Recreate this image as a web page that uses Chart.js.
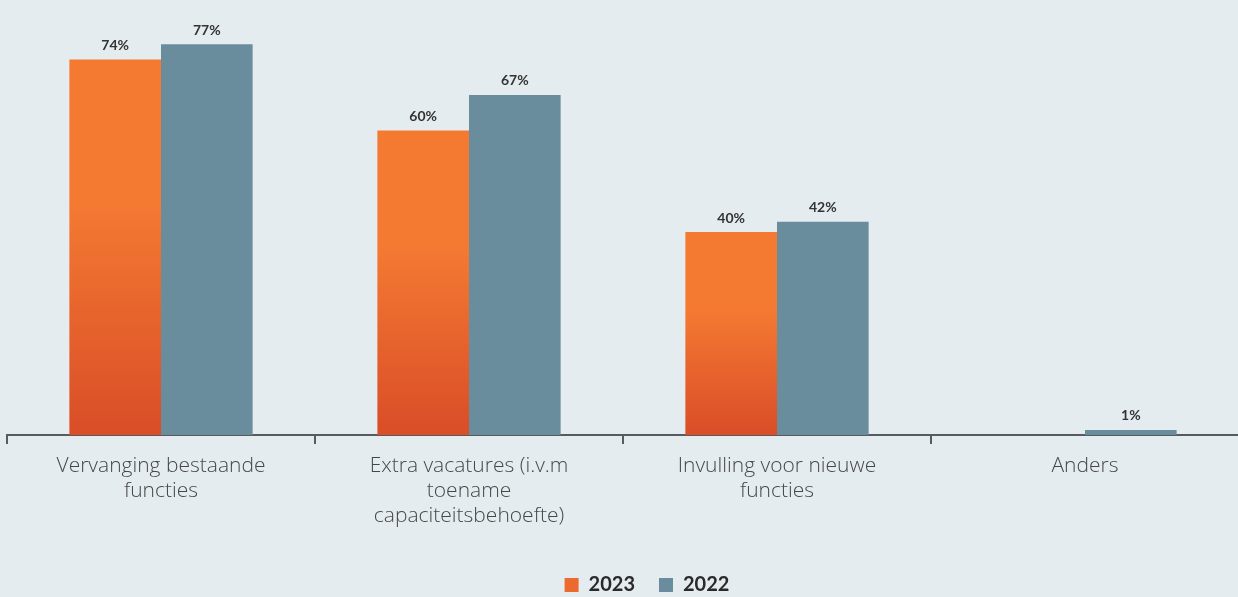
<!DOCTYPE html>
<html>
<head>
<meta charset="utf-8">
<script src="https://cdn.jsdelivr.net/npm/chart.js@4/dist/chart.umd.min.js"></script>
<style>
  html, body { margin: 0; padding: 0; background: #e5ecf0; overflow: hidden; }
  #wrap { width: 1240px; height: 597px; position: relative; }
</style>
</head>
<body>
<div id="wrap"><canvas id="chart"></canvas></div>
<script>
const categories = [
    ['Vervanging bestaande', 'functies'],
    ['Extra vacatures (i.v.m', 'toename', 'capaciteitsbehoefte)'],
    ['Invulling voor nieuwe', 'functies'],
    'Anders'
];
const values2023 = [74, 60, 40, null];
const values2022 = [77, 67, 42, 1];
const seriesLabels = ['2023', '2022'];

const orangeTop = '#f47a32';
const orangeBottom = '#da4f28';
const slate = '#6a8d9d';

// orange bars fade to a deeper red towards the axis
function orangeFill(ctx) {
    const chart = ctx.chart;
    const yScale = chart.scales.y;
    if (!chart.chartArea || !yScale || ctx.raw === null || ctx.raw === undefined) return orangeTop;
    const top = yScale.getPixelForValue(ctx.raw);
    const base = yScale.getPixelForValue(0);
    if (!isFinite(top) || !isFinite(base) || base === top) return orangeTop;
    const g = chart.ctx.createLinearGradient(0, top, 0, base);
    g.addColorStop(0, orangeTop);
    g.addColorStop(0.38, orangeTop);
    g.addColorStop(0.97, orangeBottom);
    g.addColorStop(1, orangeBottom);
    return g;
}

const valueLabels = {
    id: 'valueLabels',
    afterDatasetsDraw(chart) {
        const c = chart.ctx;
        c.save();
        c.font = 'bold 14px Lato, sans-serif';
        c.fillStyle = '#333333';
        c.textAlign = 'center';
        c.textBaseline = 'bottom';
        chart.data.datasets.forEach((ds, i) => {
            chart.getDatasetMeta(i).data.forEach((bar, j) => {
                const v = ds.data[j];
                if (v === null || v === undefined) return;
                c.fillText(v + '%', bar.x, bar.y - 7);
            });
        });
        c.restore();
    }
};

// nudge the legend a little right and down of its default slot
const legendNudge = {
    id: 'legendNudge',
    afterLayout(chart) {
        const lg = chart.legend;
        if (!lg) return;
        lg.left += 24; lg.right += 24;
        lg.top += 8; lg.bottom += 8;
    }
};

const chart = new Chart(document.getElementById('chart'), {
    type: 'bar',
    data: {
        labels: categories,
        datasets: [
            { label: seriesLabels[0], data: values2023, backgroundColor: orangeFill },
            { label: seriesLabels[1], data: values2022, backgroundColor: slate }
        ]
    },
    options: {
        responsive: true,
        maintainAspectRatio: false,
        animation: false,
        layout: { padding: { left: 7, right: 1, top: 29, bottom: 0 } },
        datasets: { bar: { barPercentage: 1, categoryPercentage: 0.595 } },
        plugins: {
            tooltip: { enabled: false },
            legend: {
                position: 'bottom',
                labels: {
                    boxWidth: 14,
                    boxHeight: 14,
                    padding: 24,
                    color: '#2a2a2a',
                    font: { family: 'Lato, sans-serif', size: 20, weight: 'bold' },
                    generateLabels(ch) {
                        return ch.data.datasets.map((ds, i) => ({
                            text: ds.label,
                            fillStyle: i === 0 ? '#ec6a30' : slate,
                            strokeStyle: 'transparent',
                            lineWidth: 0,
                            datasetIndex: i,
                            fontColor: '#2a2a2a'
                        }));
                    }
                }
            }
        },
        scales: {
            x: {
                afterFit(axis) { axis.height = 108; },
                border: { display: true, color: '#575b60', width: 2 },
                grid: {
                    display: true,
                    drawOnChartArea: false,
                    drawTicks: true,
                    tickLength: 9,
                    color: '#575b60',
                    lineWidth: 2
                },
                ticks: {
                    padding: 10,
                    color: '#474747',
                    maxRotation: 0,
                    font: { family: '"Open Sans", sans-serif', size: 21, weight: '300', lineHeight: 1.19 }
                }
            },
            y: {
                display: false,
                min: 0,
                max: 80
            }
        }
    },
    plugins: [valueLabels, legendNudge]
});
</script>
</body>
</html>
